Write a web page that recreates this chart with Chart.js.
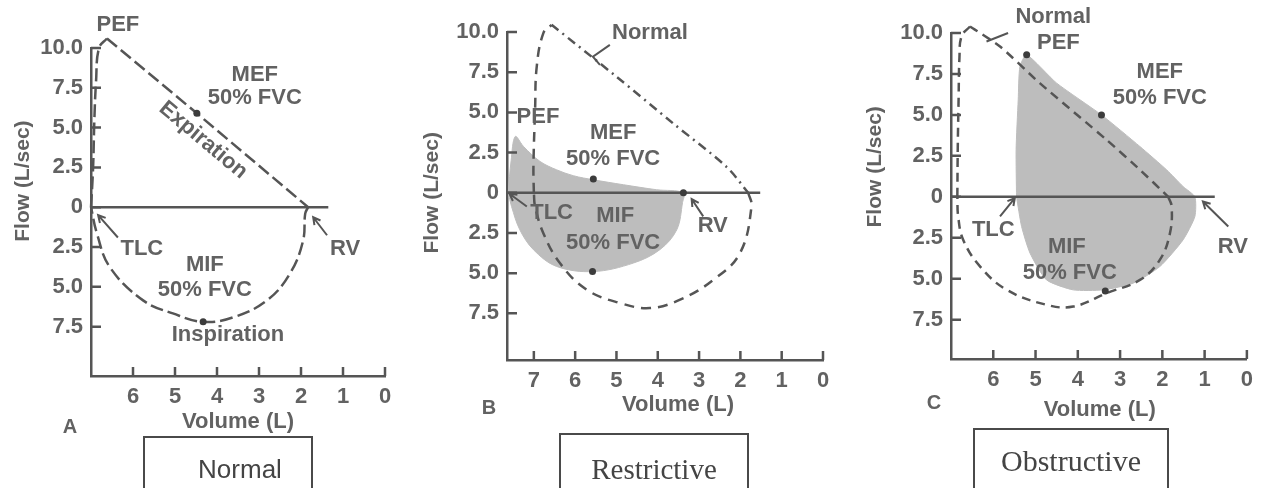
<!DOCTYPE html>
<html>
<head>
<meta charset="utf-8">
<title>Flow-volume loops</title>
<script src="https://cdn.jsdelivr.net/npm/chart.js@4.4.1/dist/chart.umd.min.js"></script>
<style>
  html, body { margin: 0; padding: 0; background: #fff; overflow: hidden; }
  body { width: 1261px; height: 488px; position: relative; }
  canvas { position: absolute; top: 0; }
  .tag { position: absolute; height: 90px; border: 2px solid #4a4a4a; box-sizing: border-box; text-align: center; color: #444; line-height: 1; }
</style>
</head>
<body>
<canvas id="chartA" width="420" height="440" style="left:0px"></canvas>
<canvas id="chartB" width="420" height="440" style="left:420px"></canvas>
<canvas id="chartC" width="421" height="440" style="left:840px"></canvas>
<div class="tag" style="left:143px;top:436px;width:170px;padding:16px 0 0 24px;font:26px 'Liberation Sans'">Normal</div>
<div class="tag" style="left:559px;top:433px;width:190px;padding-top:18px;font:29px 'Liberation Serif'">Restrictive</div>
<div class="tag" style="left:973px;top:428px;width:196px;padding-top:14px;font:30px 'Liberation Serif'">Obstructive</div>
<script>
// axis ticks
const flowTicks = [10, 7.5, 5, 2.5, 0, -2.5, -5, -7.5];
const volTicksA = [6, 5, 4, 3, 2, 1, 0];
const volTicksB = [7, 6, 5, 4, 3, 2, 1, 0];
const volTicksC = [6, 5, 4, 3, 2, 1, 0];

// A - normal loop, [volume (L), flow (L/sec)]
const riseA = [[7.0, 0], [6.95, 2.5], [6.92, 5.5], [6.88, 7.9], [6.81, 10.0], [6.62, 10.6]];
const fallA = [[6.62, 10.6], [4.48, 5.9], [1.83, 0]];
const inspA = [[1.83, 0], [1.9, -0.4], [1.95, -2.1], [2.26, -4.15], [2.81, -5.85], [3.62, -6.92], [4.33, -7.2], [5.05, -6.67], [5.76, -5.85], [6.55, -3.77], [6.86, -1.64], [7.0, 0]];
const dotsA = [[4.48, 5.9], [4.33, -7.2]];
const zeroA = [[7.0, 0], [1.35, 0]];

// B - restrictive loop over the normal one
const normRiseB = [[7.0, 0], [7.01, 1.64], [6.97, 5.16], [6.93, 7.85], [6.77, 9.93], [6.57, 10.45]];
const normFallB = [[6.57, 10.45], [4.99, 7.2], [3.62, 4.3], [2.33, 1.6], [1.81, 0]];
const normInspB = [[1.81, 0], [1.73, -0.85], [2.01, -3.75], [2.65, -5.41], [3.46, -6.65], [4.19, -7.17], [4.91, -6.86], [5.72, -6.03], [6.37, -4.37], [6.77, -2.51], [6.97, -0.85], [7.0, 0]];
const restrB = [[7.62, 0], [7.55, 2.0], [7.45, 3.5], [7.25, 2.88], [6.85, 1.95], [6.45, 1.43], [6.04, 1.06], [5.56, 0.81], [4.83, 0.5], [4.03, 0.19], [3.38, 0], [3.4, -0.6], [3.54, -2.3], [3.95, -3.54], [4.59, -4.37], [5.56, -4.9], [6.45, -4.58], [7.01, -3.54], [7.34, -2.3], [7.54, -0.85], [7.62, 0]];
const dotsB = [[5.56, 0.85], [5.58, -4.9], [3.38, 0]];
const zeroB = [[7.65, 0], [1.52, 0]];

// C - obstructive loop over the normal one
const normRiseC = [[6.85, 0], [6.84, 3.0], [6.82, 6.0], [6.8, 8.5], [6.75, 9.8], [6.55, 10.4]];
const normFallC = [[6.55, 10.4], [5.84, 9.18], [4.9, 6.94], [3.32, 3.48], [2.53, 1.65], [1.86, 0]];
const normInspC = [[1.86, 0], [1.78, -0.59], [1.82, -2.22], [2.06, -3.85], [2.53, -5.07], [3.32, -5.88], [4.11, -6.7], [4.74, -6.59], [5.68, -5.68], [6.31, -4.26], [6.71, -2.63], [6.83, -1.2], [6.85, 0]];
const obstrC = [[5.45, 0], [5.46, 2.87], [5.41, 5.92], [5.37, 7.95], [5.21, 8.67], [4.5, 6.94], [3.44, 5.0], [2.53, 3.07], [1.9, 1.65], [1.51, 0.63], [1.23, 0], [1.23, -1.2], [1.51, -2.63], [2.06, -4.26], [2.69, -5.27], [3.4, -5.68], [4.11, -5.68], [4.74, -5.07], [5.13, -3.44], [5.33, -1.81], [5.45, 0]];
const dotsC = [[5.21, 8.67], [3.44, 5.0], [3.35, -5.75]];
const zeroC = [[7.0, 0], [0.76, 0]];

// labels inside the plots: [text, volume, flow, angle]
const notesA = [['PEF', 6.36, 11.45], ['MEF', 3.1, 8.3], ['50% FVC', 3.1, 6.85], ['Expiration', 4.33, 4.21, 40],
  ['TLC', 5.79, -2.6], ['RV', 0.95, -2.6], ['MIF', 4.29, -3.65], ['50% FVC', 4.29, -5.2], ['Inspiration', 3.74, -8.05]];
const notesB = [['Normal', 4.19, 9.93], ['PEF', 6.9, 4.7], ['MEF', 5.08, 3.71], ['50% FVC', 5.08, 2.09],
  ['TLC', 6.57, -1.27], ['MIF', 5.03, -1.47], ['50% FVC', 5.08, -3.13], ['RV', 2.67, -2.09]];
const notesC = [['Normal', 4.58, 11.0], ['PEF', 4.46, 9.38], ['MEF', 2.06, 7.65], ['50% FVC', 2.06, 6.03],
  ['TLC', 6.0, -2.01], ['MIF', 4.26, -3.03], ['50% FVC', 4.19, -4.66], ['RV', 0.33, -3.03]];

// pointer arrows [from vol, from flow, to vol, to flow]
const arrowsA = [[6.36, -1.9, 6.83, -0.5], [1.38, -1.76, 1.71, -0.63]];
const arrowsB = [[7.17, -0.85, 7.59, -0.06], [2.9, -1.47, 3.18, -0.39]];
const arrowsC = [[5.84, -1.2, 5.49, -0.08], [0.44, -1.81, 1.04, -0.29]];
const leaderB = [[5.16, 9.2], [5.57, 8.46], [5.4, 7.96]];
const leaderC = [[5.65, 10.0], [6.16, 9.48]];

const ink = '#555';
const textInk = '#626262';
const shade = '#bdbdbd';
const font = 'bold 22px "Liberation Sans"';

Chart.defaults.font.family = 'Liberation Sans';

const pts = arr => arr.map(([x, y]) => ({x, y}));

function curve(arr, dash, tension) {
  return {data: pts(arr), showLine: true, borderColor: ink, borderWidth: 2.5, borderDash: dash,
    pointRadius: 0, tension: tension, fill: false, clip: false, order: 3};
}
function area(arr, tension) {
  return {data: pts(arr), showLine: true, borderColor: shade, backgroundColor: shade, borderWidth: 1,
    pointRadius: 0, tension: tension, fill: 'shape', clip: false, order: 5};
}
function zero(arr) {
  return {data: pts(arr), showLine: true, borderColor: ink, borderWidth: 2.5, pointRadius: 0, order: 2};
}
function dots(arr) {
  return {data: pts(arr), showLine: false, pointRadius: 3.5, pointBackgroundColor: '#3c3c3c', pointBorderWidth: 0, clip: false, order: 1};
}

const annotate = {
  id: 'annotate',
  afterDatasetsDraw(chart, args, o) {
    const {ctx, chartArea: a, scales: {x, y}} = chart;
    const px = v => x.getPixelForValue(v);
    const py = v => y.getPixelForValue(v);
    ctx.save();
    ctx.strokeStyle = ink;
    ctx.lineWidth = 2.5;
    // tick marks point into the plot
    ctx.beginPath();
    x.ticks.forEach(t => { ctx.moveTo(px(t.value), a.bottom); ctx.lineTo(px(t.value), a.bottom - 9); });
    y.ticks.forEach(t => { ctx.moveTo(a.left, py(t.value)); ctx.lineTo(a.left + 10, py(t.value)); });
    ctx.stroke();

    ctx.lineWidth = 2;
    o.arrows.forEach(([x1, y1, x2, y2]) => {
      const X1 = px(x1), Y1 = py(y1), X2 = px(x2), Y2 = py(y2);
      const ang = Math.atan2(Y2 - Y1, X2 - X1);
      ctx.beginPath();
      ctx.moveTo(X1, Y1);
      ctx.lineTo(X2, Y2);
      ctx.moveTo(X2 - 8 * Math.cos(ang - 0.5), Y2 - 8 * Math.sin(ang - 0.5));
      ctx.lineTo(X2, Y2);
      ctx.lineTo(X2 - 8 * Math.cos(ang + 0.5), Y2 - 8 * Math.sin(ang + 0.5));
      ctx.stroke();
    });
    if (o.leader) {
      ctx.beginPath();
      o.leader.forEach(([vx, vy], i) => i ? ctx.lineTo(px(vx), py(vy)) : ctx.moveTo(px(vx), py(vy)));
      ctx.stroke();
    }

    ctx.fillStyle = textInk;
    ctx.font = font;
    ctx.textAlign = 'center';
    ctx.textBaseline = 'middle';
    o.notes.forEach(([t, vx, vy, rot]) => {
      ctx.save();
      ctx.translate(px(vx), py(vy));
      if (rot) ctx.rotate(rot * Math.PI / 180);
      ctx.fillText(t, 0, 0);
      ctx.restore();
    });

    // axis titles and panel letter
    ctx.fillText('Volume (L)', px(o.xTitle[0]), a.bottom + o.xTitle[1]);
    ctx.save();
    ctx.translate(a.left - o.yTitle[0], py(o.yTitle[1]));
    ctx.rotate(-Math.PI / 2);
    ctx.font = 'bold 21px "Liberation Sans"';
    ctx.fillText('Flow (L/sec)', 0, 0);
    ctx.restore();
    ctx.font = 'bold 20px "Liberation Sans"';
    ctx.fillText(o.letter[0], a.left - o.letter[1], a.bottom + o.letter[2]);
    ctx.restore();
  }
};

function panel(id, p) {
  return new Chart(document.getElementById(id), {
    type: 'scatter',
    data: {datasets: p.datasets},
    options: {
      responsive: false,
      animation: false,
      events: [],
      layout: {padding: {left: 0, top: p.top, right: p.right, bottom: 0}},
      plugins: {legend: {display: false}, tooltip: {enabled: false}, annotate: p.notes},
      scales: {
        x: {
          type: 'linear', reverse: true, min: 0, max: p.xMax,
          afterFit: s => { s.height = 440 - p.bottom; },
          afterBuildTicks: s => { s.ticks = p.xTicks.map(v => ({value: v})); },
          grid: {display: false, drawTicks: false},
          border: {color: ink, width: 2.5},
          ticks: {color: textInk, font: {size: 22, weight: 'bold'}, padding: 8, autoSkip: false, maxRotation: 0}
        },
        y: {
          type: 'linear', min: p.yMin, max: 10,
          afterFit: s => { s.width = p.left; },
          afterBuildTicks: s => { s.ticks = flowTicks.map(v => ({value: v})); },
          grid: {display: false, drawTicks: false},
          border: {color: ink, width: 2.5},
          ticks: {color: textInk, font: {size: 22, weight: 'bold'}, padding: 8, autoSkip: false,
            callback: v => v === 0 ? '0' : Math.abs(v).toFixed(1)}
        }
      }
    },
    plugins: [annotate]
  });
}

panel('chartA', {
  left: 91, right: 35, top: 48, bottom: 376, xMax: 7.0, yMin: -10.6, xTicks: volTicksA,
  datasets: [curve(riseA, [13, 5], 0.4), curve(fallA, [13, 5], 0), curve(inspA, [13, 5], 0.4), zero(zeroA), dots(dotsA)],
  notes: {notes: notesA, arrows: arrowsA, xTitle: [3.5, 46], yTitle: [68, 1.64], letter: ['A', 21, 51]}
});

panel('chartB', {
  left: 87, right: 17, top: 32, bottom: 360, xMax: 7.65, yMin: -10.4, xTicks: volTicksB,
  datasets: [area(restrB, 0.35), curve(normRiseB, [10, 7], 0.4), curve(normFallB, [9, 5, 2, 5], 0.3), curve(normInspB, [10, 7], 0.4), zero(zeroB), dots(dotsB)],
  notes: {notes: notesB, arrows: arrowsB, leader: leaderB, xTitle: [3.51, 45], yTitle: [75, 0], letter: ['B', 18, 48]}
});

panel('chartC', {
  left: 111, right: 14, top: 33, bottom: 359, xMax: 7.0, yMin: -9.9, xTicks: volTicksC,
  datasets: [area(obstrC, 0.2), curve(normRiseC, [9, 6], 0.4), curve(normFallC, [9, 6], 0.2), curve(normInspC, [9, 6], 0.4), zero(zeroC), dots(dotsC)],
  notes: {notes: notesC, arrows: arrowsC, leader: leaderC, xTitle: [3.48, 51], yTitle: [76, 1.83], letter: ['C', 17, 44]}
});
</script>
</body>
</html>
